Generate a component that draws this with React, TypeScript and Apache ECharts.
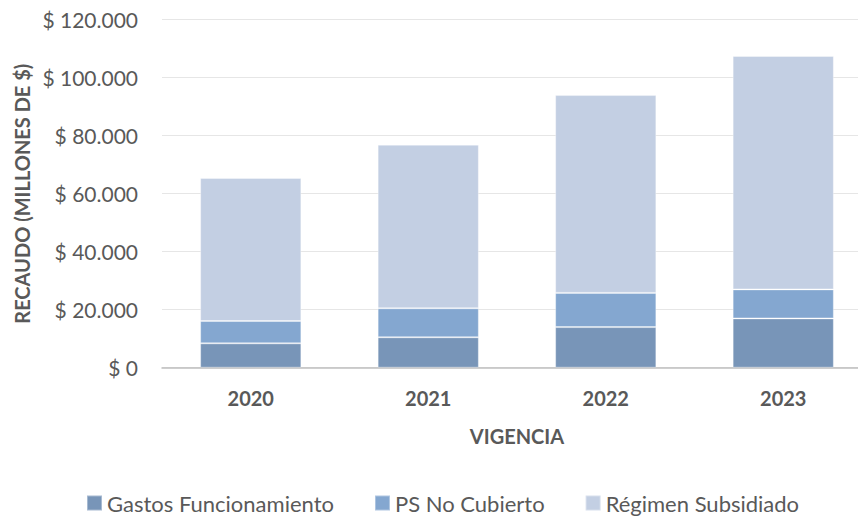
import React, { useEffect, useRef } from "react";
import * as echarts from "echarts";

const categories = ["2020", "2021", "2022", "2023"];
const gastosFuncionamiento = [8400, 10500, 14000, 17000];
const psNoCubierto = [7700, 10000, 11800, 10000];
const regimenSubsidiado = [49300, 56400, 68200, 80500];
const seriesNames = ["Gastos Funcionamiento", "PS No Cubierto", "Régimen Subsidiado"];
const colors = ["#7895b8", "#84a7d0", "#c3cfe3"];

const FONT = "Lato, 'Open Sans', sans-serif";

function fmt(v: number): string {
  const s = Math.round(v).toString().replace(/\B(?=(\d{3})+(?!\d))/g, ".");
  return "$ " + s;
}

export default function App() {
  const ref = useRef<HTMLDivElement>(null);
  useEffect(() => {
    if (!ref.current) return;
    const chart = echarts.init(ref.current, undefined, { renderer: "svg" });
    const data = [gastosFuncionamiento, psNoCubierto, regimenSubsidiado];
    chart.setOption({
      animation: false,
      backgroundColor: "#ffffff",
      textStyle: { fontFamily: FONT },
      grid: { left: 162, top: 19.7, width: 710, height: 348 },
      legend: {
        top: 492,
        left: 86,
        padding: 0,
        itemWidth: 15,
        itemHeight: 15,
        itemGap: 40,
        icon: "rect",
        textStyle: { fontSize: 22, lineHeight: 20, color: "#595959", fontFamily: FONT, padding: [0, 0, 0, 0] },
        data: seriesNames,
      },
      xAxis: {
        type: "category",
        data: categories,
        axisLine: { show: true, lineStyle: { color: "#bfbfbf", width: 1.5 } },
        axisTick: { show: false },
        axisLabel: { fontSize: 20, fontWeight: "bold", color: "#595959", margin: 20, fontFamily: FONT },
        name: "VIGENCIA",
        nameLocation: "middle",
        nameGap: 58,
        nameTextStyle: { fontSize: 20, fontWeight: "bold", color: "#595959", fontFamily: FONT },
      },
      yAxis: {
        type: "value",
        min: 0,
        max: 120000,
        interval: 20000,
        axisLine: { show: false },
        axisTick: { show: false },
        splitLine: { lineStyle: { color: "#e6e6e6", width: 1 } },
        axisLabel: { fontSize: 21, color: "#595959", margin: 24, formatter: (v: number) => fmt(v), fontFamily: FONT },
        name: "RECAUDO (MILLONES DE $)",
        nameLocation: "middle",
        nameGap: 130,
        nameRotate: 90,
        nameTextStyle: { fontSize: 20, fontWeight: "bold", color: "#595959", fontFamily: FONT },
      },
      series: seriesNames.map((name, i) => ({
        name,
        type: "bar",
        stack: "total",
        data: data[i],
        barCategoryGap: "43%",
        itemStyle: { color: colors[i], borderColor: "rgba(255,255,255,0.35)", borderWidth: 1 },
      })),
    });
    return () => chart.dispose();
  }, []);
  return (
    <div
      ref={ref}
      style={{ position: "fixed", left: 0, top: 0, width: 880, height: 516 }}
    />
  );
}
